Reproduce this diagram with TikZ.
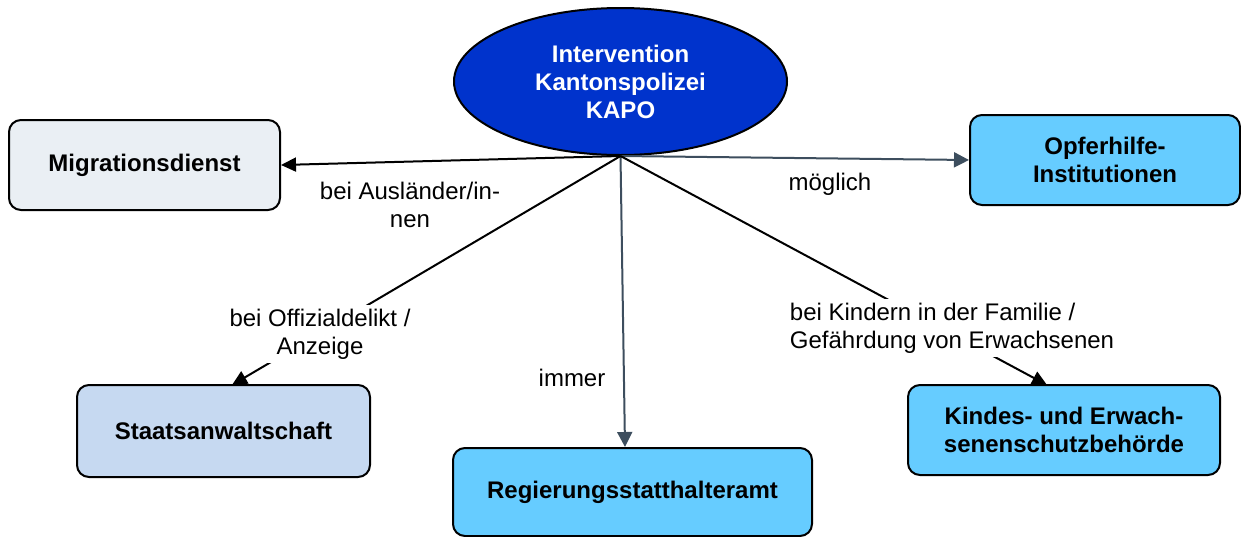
\documentclass[tikz,border=0pt]{standalone}
\usepackage{fontspec}
\setmainfont{Liberation Sans}
\usetikzlibrary{arrows.meta,shapes.geometric}
\definecolor{kapoblue}{RGB}{0,51,204}
\definecolor{migfill}{RGB}{234,239,244}
\definecolor{stafill}{RGB}{198,217,241}
\definecolor{lightblue}{RGB}{102,204,255}
\definecolor{linegray}{RGB}{61,78,94}

\begin{document}
\begin{tikzpicture}[x=0.5pt,y=-0.5pt,
	font=\fontsize{12}{14}\selectfont,
	box/.style={draw=black,line width=1pt,rounded corners=6pt,align=center,font=\fontsize{12}{14}\selectfont\bfseries},
	lbl/.style={align=center,inner sep=2pt},
	blk/.style={line width=1pt,-{Triangle[length=7.5pt,width=7pt]}},
	gry/.style={draw=linegray,line width=1pt,-{Triangle[length=7.5pt,width=7.5pt]}}]
	\useasboundingbox (0,0) rectangle (1241,536);
	% nodes
	\node (kapo) at (620.5,81.5)[ellipse,draw=black,line width=1pt,fill=kapoblue,text=white,align=center,font=\fontsize{12}{14}\selectfont\bfseries,minimum width=166.5pt,minimum height=73.5pt,inner sep=0pt] {Intervention\\Kantonspolizei\\KAPO};
	\node (mig) at (144.5,165)[box,fill=migfill,minimum width=135.5pt,minimum height=45pt] {Migrationsdienst};
	\node (opf) at (1105,160)[box,fill=lightblue,minimum width=135pt,minimum height=45pt] {Opferhilfe-\\Institutionen};
	\node (sta) at (223.5,431)[box,fill=stafill,minimum width=146.5pt,minimum height=46pt] {Staatsanwaltschaft};
	\node (reg) at (632.5,492)[box,fill=lightblue,minimum width=179.5pt,minimum height=44pt] {Regierungsstatthalteramt};
	\node (kes) at (1064,430)[box,fill=lightblue,minimum width=156pt,minimum height=45pt] {Kindes- und Erwach-\\senenschutzbehörde};
	\coordinate (stain) at (232,385);
	\coordinate (regin) at (625,447);
	\coordinate (kesin) at (1047,385);
	% connectors
	\draw[blk] (kapo.south) -- (mig.east);
	\draw[gry] (kapo.south) -- (opf.west);
	\draw[gry] (kapo.south) -- (regin);
	\draw[blk] (kapo.south) -- (stain);
	\draw[blk] (kapo.south) -- (kesin);
	% labels
	\node (lmig) at (410,205)[lbl] {bei Ausländer/in-\\nen};
	\node (lopf) at (830,184)[lbl] {möglich};
	\node (lsta) at (320,334)[lbl,fill=white] {bei Offizialdelikt /\\Anzeige};
	\node (lreg) at (572,378)[lbl] {immer};
	\node (lkes) at (952,328)[lbl,fill=white,align=left] {bei Kindern in der Familie /\\Gefährdung von Erwachsenen};
\end{tikzpicture}
\end{document}
